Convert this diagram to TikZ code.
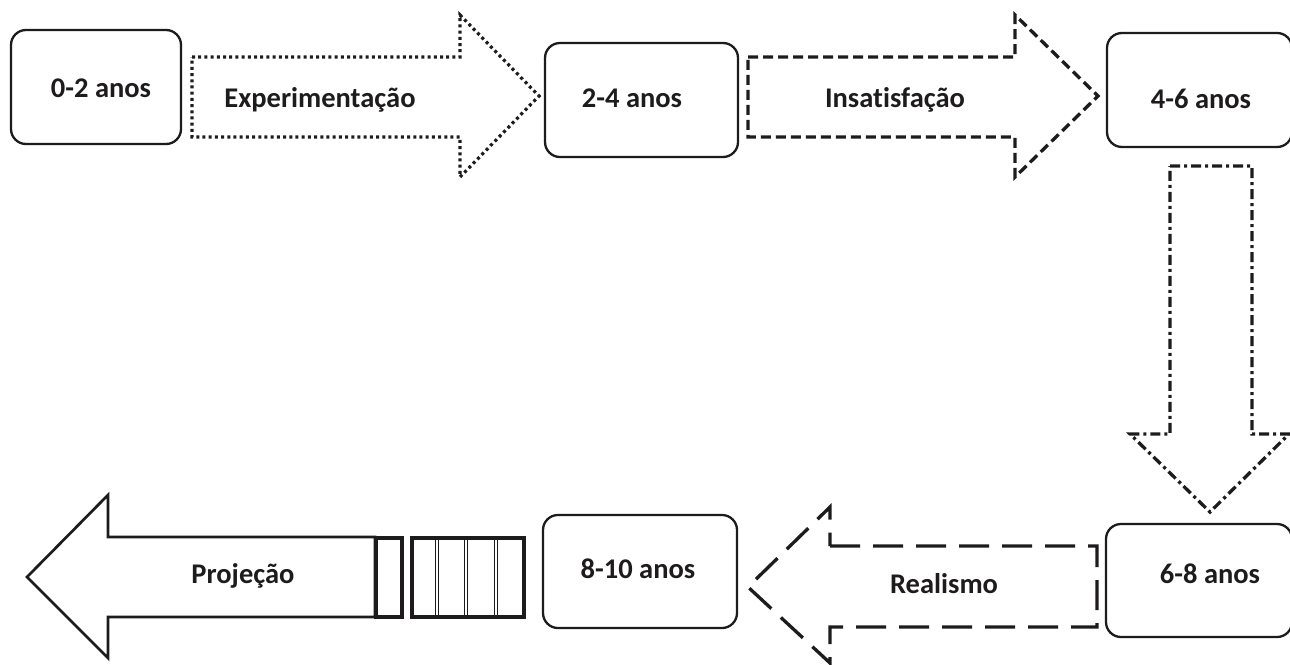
\documentclass[tikz,border=0pt]{standalone}
\usepackage{fontspec}
\setmainfont{Carlito}[Ligatures={NoCommon}]
\definecolor{ink}{RGB}{30,27,28}
\begin{document}
\begin{tikzpicture}[x=1pt,y=-1pt,
  agebox/.style={draw=ink,line width=2.3pt,rounded corners=15pt,inner sep=0pt},
  lbl/.style={anchor=base,inner sep=0pt,text=ink,font=\fontsize{28.5}{30}\selectfont\bfseries},
  dotline/.style={draw=ink,line width=3.2pt,dash pattern=on 3pt off 3.2pt,line join=miter},
  dashline/.style={draw=ink,line width=3.3pt,dash pattern=on 10pt off 5pt,line join=miter},
  dashdotline/.style={draw=ink,line width=3.3pt,dash pattern=on 10pt off 4pt on 3pt off 4pt,line join=miter},
  longdashline/.style={draw=ink,line width=3.3pt,dash pattern=on 30pt off 13pt,line join=miter},
  solidline/.style={draw=ink,line width=2.7pt,line join=miter},
  stripe/.style={draw=ink,line width=3.2pt},
  thinline/.style={draw=ink,line width=1pt}]
\useasboundingbox (0,0) rectangle (1290,664);
% age boxes
\node[agebox,minimum width=170pt,minimum height=114pt] (A) at (96,87) {};
\node[agebox,minimum width=193pt,minimum height=114pt] (B) at (641.5,100) {};
\node[agebox,minimum width=185pt,minimum height=114pt] (C) at (1199.5,90) {};
\node[agebox,minimum width=186pt,minimum height=113pt] (E) at (1199,580.5) {};
\node[agebox,minimum width=194pt,minimum height=113pt] (D) at (640,571.5) {};
\node[lbl] (tA) at (101,97) {0-2 anos};
\node[lbl] (tB) at (632,107) {2-4 anos};
\node[lbl] (tC) at (1201,108) {4-6 anos};
\node[lbl] (tE) at (1210,583) {6-8 anos};
\node[lbl] (tD) at (638,578) {8-10 anos};
% block arrows
\draw[dotline] (192,57) -- (460,57) -- (460,15) -- (539,96) -- (460,177) -- (460,137) -- (192,137) -- cycle;
\draw[dashline] (748,57) -- (1015,57) -- (1015,15) -- (1098,96) -- (1015,177) -- (1015,137) -- (748,137) -- cycle;
\draw[dashdotline] (1170,166) -- (1252,166) -- (1252,434) -- (1289,434) -- (1210,512) -- (1130,434) -- (1170,434) -- cycle;
\draw[longdashline] (830,546) -- (1097,546) -- (1097,627) -- (830,627) -- (830,663) -- (748,587) -- (830,507) -- cycle;
\draw[solidline] (375,537) -- (108,537) -- (108,495) -- (27,577) -- (108,658) -- (108,617) -- (375,617) -- cycle;
\draw[stripe] (376,538) rectangle (402,617);
\draw[stripe] (412,538) rectangle (524,617);
\foreach \sx in {437,466,496}{
  \draw[thinline] (\sx-1.5,538) -- (\sx-1.5,617);
  \draw[thinline] (\sx+1.5,538) -- (\sx+1.5,617);
}
\node[lbl] (tExp) at (320,107) {Experimentação};
\node[lbl] (tIns) at (895,107) {Insatisfação};
\node[lbl] (tRea) at (944,593) {Realismo};
\node[lbl] (tPro) at (243,583) {Projeção};
\end{tikzpicture}
\end{document}
